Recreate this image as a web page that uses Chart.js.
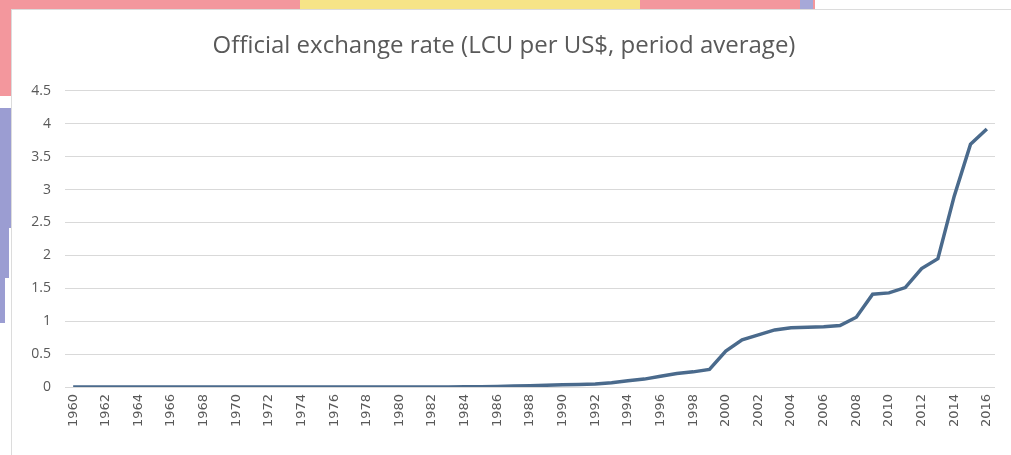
<!DOCTYPE html>
<html>
<head>
<meta charset="utf-8">
<script src="https://cdn.jsdelivr.net/npm/chart.js@4"></script>
<style>
  html, body { margin: 0; padding: 0; background: #fff; }
  body { position: relative; width: 1011px; height: 455px; overflow: hidden; }
  .deco { position: absolute; }
  #box {
    position: absolute; left: 11px; top: 9px; width: 1005px; height: 450px;
    background: #fff; border: 1px solid #dcdcdc; box-sizing: border-box;
  }
  #wrap { position: absolute; left: 1px; top: 1px; width: 999px; height: 445px; }
</style>
</head>
<body>
<!-- decoracion de fondo detras del grafico -->
<div class="deco" style="left:0;top:0;width:815px;height:12px;background:#f3979d"></div>
<div class="deco" style="left:300px;top:0;width:340px;height:12px;background:#f6e487"></div>
<div class="deco" style="left:800px;top:0;width:13px;height:12px;background:#a6a8d8"></div>
<div class="deco" style="left:0;top:0;width:12px;height:96px;background:#f3979d"></div>
<div class="deco" style="left:0;top:108px;width:12px;height:120px;background:#9b9dd2"></div>
<div class="deco" style="left:0;top:228px;width:9px;height:50px;background:#9b9dd2"></div>
<div class="deco" style="left:0;top:278px;width:5px;height:45px;background:#9b9dd2"></div>

<div id="box"><div id="wrap"><canvas id="chart"></canvas></div></div>

<script>
  // Datos del grafico
  const years = [];
  for (let y = 1960; y <= 2016; y++) years.push(String(y));

  // Tipo de cambio oficial (LCU por US$)
  const rates = [
    0, 0, 0, 0, 0, 0, 0, 0, 0, 0,            // 1960-1969
    0, 0, 0, 0, 0, 0, 0, 0, 0, 0,            // 1970-1979
    0, 0, 0, 0.001, 0.004, 0.005, 0.009, 0.015, 0.02, 0.027, // 1980-1989
    0.033, 0.037, 0.044, 0.064, 0.096, 0.12, 0.164, 0.205, 0.23, 0.267, // 1990-1999
    0.545, 0.716, 0.792, 0.867, 0.9, 0.906, 0.916, 0.935, 1.06, 1.41,   // 2000-2009
    1.43, 1.51, 1.8, 1.95, 2.9, 3.69, 3.92   // 2010-2016
  ];

  const yTicks = [0, 0.5, 1, 1.5, 2, 2.5, 3, 3.5, 4, 4.5];
  const chartTitle = 'Official exchange rate (LCU per US$, period average)';

  const textColor = '#595959';
  const gridColor = '#d9d9d9';

  const ctx = document.getElementById('chart').getContext('2d');
  new Chart(ctx, {
    type: 'line',
    data: {
      labels: years,
      datasets: [{
        label: 'Official exchange rate',
        data: rates,
        borderColor: '#4a6a8c',
        borderWidth: 3.5,
        pointRadius: 0,
        tension: 0,
        fill: false
      }]
    },
    options: {
      responsive: true,
      maintainAspectRatio: false,
      animation: false,
      layout: { padding: { left: 0, right: 17, top: 0, bottom: 0 } },
      plugins: {
        legend: { display: false },
        tooltip: { enabled: false },
        title: {
          display: true,
          text: chartTitle,
          color: textColor,
          font: { family: 'Open Sans', size: 24, weight: 'normal' },
          padding: { top: 21, bottom: 30 }
        }
      },
      scales: {
        x: {
          offset: true,
          grid: { display: false, drawTicks: false },
          border: { display: false },
          ticks: {
            autoSkip: false,
            minRotation: 90,
            maxRotation: 90,
            padding: 7,
            color: textColor,
            font: { family: 'DejaVu Sans', size: 13 },
            callback: (val, i) => (i % 2 === 0 ? years[i] : '')
          },
          afterFit: (scale) => { scale.height = 69; }
        },
        y: {
          min: 0,
          max: 4.5,
          afterBuildTicks: (scale) => { scale.ticks = yTicks.map(v => ({ value: v })); },
          grid: { color: gridColor, lineWidth: 1, drawTicks: false },
          border: { display: false },
          ticks: {
            padding: 14,
            color: textColor,
            font: { family: 'Open Sans', size: 14 },
            callback: (v) => String(v)
          },
          afterFit: (scale) => { scale.width = 52; }
        }
      }
    }
  });
</script>
</body>
</html>
